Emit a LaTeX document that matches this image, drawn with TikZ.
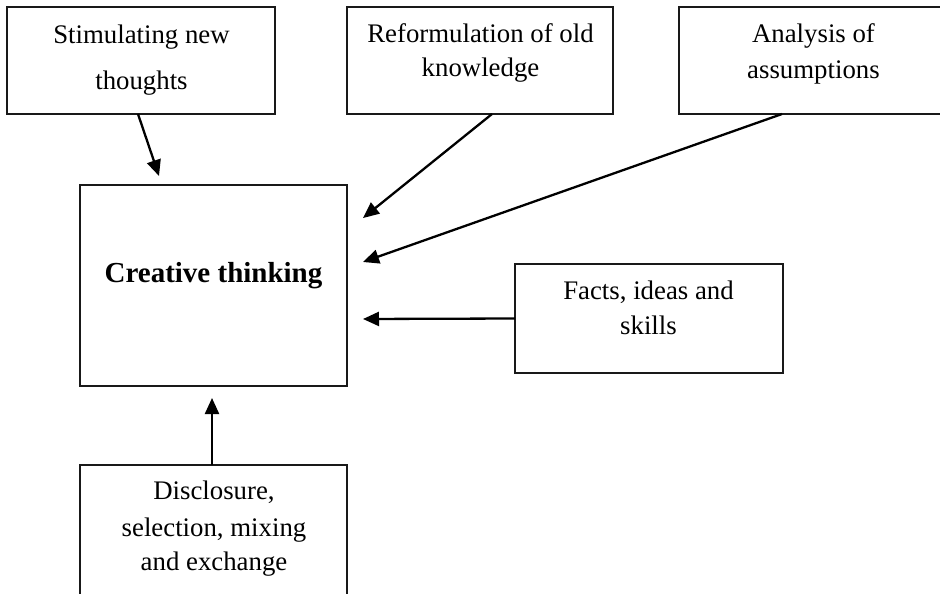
\documentclass[tikz,border=0pt]{standalone}
\usepackage{fontspec}
\setmainfont{Liberation Serif}
\usetikzlibrary{arrows.meta,calc}
\begin{document}
\begin{tikzpicture}[x=1pt,y=-1pt,
  box/.style={draw=black!90,line width=2.2pt,inner sep=0pt,outer sep=0pt,fill=none},
  lbl/.style={anchor=base,inner sep=0pt,font=\fontsize{26.8}{30}\selectfont},
  blbl/.style={anchor=base,inner sep=0pt,font=\fontsize{29}{33}\selectfont\bfseries},
  arr/.style={line width=2.3pt,-{Triangle[length=16pt,width=14pt]}}]
\clip (0,0) rectangle (940,594);
\fill[white] (0,0) rectangle (940,594);
% boxes
\node[box,minimum width=268pt,minimum height=107pt] (b1) at (141,60.5) {};
\node[box,minimum width=266pt,minimum height=107pt] (b2) at (480,60.5) {};
\node[box,minimum width=269pt,minimum height=107pt] (b3) at (813.5,60.5) {};
\node[box,minimum width=267pt,minimum height=201pt] (ct) at (213.5,285.5) {};
\node[box,minimum width=268pt,minimum height=109pt] (fa) at (649,318.5) {};
\node[box,minimum width=267pt,minimum height=160pt] (di) at (213.5,545) {};
% texts
\node[lbl] (b1a) at (141.5,44) {Stimulating new};
\node[lbl] (b1b) at (141.5,89) {thoughts};
\node[lbl] (b2a) at (480.5,43) {Reformulation of old};
\node[lbl] (b2b) at (480.5,77) {knowledge};
\node[lbl] (b3a) at (813.5,43) {Analysis of};
\node[lbl] (b3b) at (813.5,78) {assumptions};
\node[blbl] (ctt) at (213.5,282) {Creative thinking};
\node[lbl] (faa) at (648.5,299) {Facts, ideas and};
\node[lbl] (fab) at (648.5,334) {skills};
\node[lbl] (dia) at (214,499) {Disclosure,};
\node[lbl] (dib) at (214,536) {selection, mixing};
\node[lbl] (dic) at (214,570) {and exchange};
% arrow tips
\coordinate (t1) at (159,176);
\coordinate (t2) at (363,218);
\coordinate (t3) at (363,262);
\coordinate (t4) at (363,319);
\coordinate (t5) at (212,398);
% connectors
\draw[arr] ($(b1.south)+(-3,0)$) -- (t1);
\draw[arr] ($(b2.south)+(12,0)$) -- (t2);
\draw[arr] ($(b3.south)+(-31.5,0)$) -- (t3);
\draw[arr] (fa.west) -- (t4);
\draw[arr] ($(di.north)+(-1.5,0)$) -- (t5);
\end{tikzpicture}
\end{document}
